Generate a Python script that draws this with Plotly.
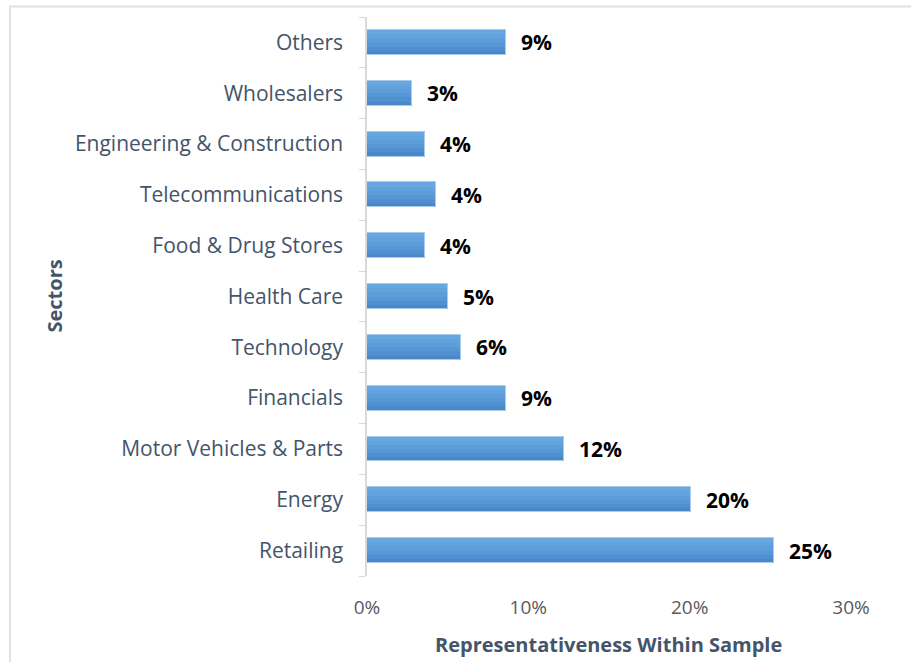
import plotly.graph_objects as go

# Sector shares of the sample (percent), listed bottom to top
sectors = [
    "Retailing", "Energy", "Motor Vehicles & Parts", "Financials", "Technology",
    "Health Care", "Food & Drug Stores", "Telecommunications",
    "Engineering & Construction", "Wholesalers", "Others",
]
shares = [25.2, 20.1, 12.2, 8.6, 5.8, 5.0, 3.6, 4.3, 3.6, 2.8, 8.6]

x_ticks = [0, 10, 20, 30]
x_tick_labels = ["0%", "10%", "20%", "30%"]

W, H = 911, 662
ML, MR, MT, MB = 367, 60, 16.5, 85.5
PW, PH = W - ML - MR, H - MT - MB

def px_x(px):
    return (px - ML) / PW

def px_y(py):
    return 1 - (py - MT) / PH

TEXT = "#44546A"
FONT = "Open Sans"

fig = go.Figure()

# Bars drawn as stacked horizontal strips to give a vertical gradient
bar_h = 0.49
strips = ["#4A86C8", "#5090D0", "#5697D6", "#5C9DDA", "#62A2DD", "#69A7E0"]
n = len(strips)
for i, c in enumerate(strips):
    fig.add_trace(go.Bar(
        x=shares, y=sectors, orientation="h",
        width=bar_h / n + 0.002, offset=-bar_h / 2 + i * bar_h / n,
        marker=dict(color=c, line=dict(width=0)),
        hoverinfo="skip", showlegend=False,
    ))
# thin light outline
fig.add_trace(go.Bar(
    x=shares, y=sectors, orientation="h", width=bar_h, offset=-bar_h / 2,
    marker=dict(color="rgba(0,0,0,0)", line=dict(color="#A9CBEC", width=1)),
    hoverinfo="skip", showlegend=False,
))

# value labels
for s, v in zip(sectors, shares):
    fig.add_annotation(
        x=v, y=s, text=f"{v:.0f}%", showarrow=False, xanchor="left",
        xshift=13, font=dict(family=FONT, size=21, color="#000000", weight="bold"),
    )

# axis titles
fig.add_annotation(
    xref="paper", yref="paper", x=px_x(608), y=px_y(645), text="Representativeness Within Sample",
    showarrow=False, xanchor="center", yanchor="middle",
    font=dict(family=FONT, size=20, color=TEXT, weight="bold"),
)
fig.add_annotation(
    xref="paper", yref="paper", x=px_x(54), y=0.5, text="Sectors", textangle=-90,
    showarrow=False, xanchor="center", yanchor="middle",
    font=dict(family=FONT, size=20, color=TEXT, weight="bold"),
)

# chart frame
fig.add_shape(
    type="rect", xref="paper", yref="paper",
    x0=px_x(10), y0=px_y(H + 20), x1=px_x(W + 20), y1=px_y(6),
    line=dict(color="#DCE1EA", width=2), fillcolor="rgba(0,0,0,0)", layer="below",
)

fig.update_layout(
    width=W, height=H, barmode="overlay", bargap=0,
    margin=dict(l=ML, r=MR, t=MT, b=MB),
    paper_bgcolor="white", plot_bgcolor="white",
    font=dict(family=FONT, size=20, color=TEXT),
)
fig.update_xaxes(
    range=[0, 30], tickvals=x_ticks, ticktext=x_tick_labels,
    showgrid=False, zeroline=False, showline=False,
    ticks="outside", ticklen=14, tickcolor="rgba(0,0,0,0)",
    tickfont=dict(family=FONT, size=19, color="#595959"),
)
fig.update_yaxes(
    type="category", categoryorder="array", categoryarray=sectors,
    showgrid=False, zeroline=False, showline=True, linecolor="#D9D9D9", linewidth=1.5,
    ticks="outside", tickson="boundaries", ticklen=6, tickcolor="#D9D9D9",
    ticklabelstandoff=18,
    tickfont=dict(family=FONT, size=21, color=TEXT),
)

fig.write_html("out.html")
